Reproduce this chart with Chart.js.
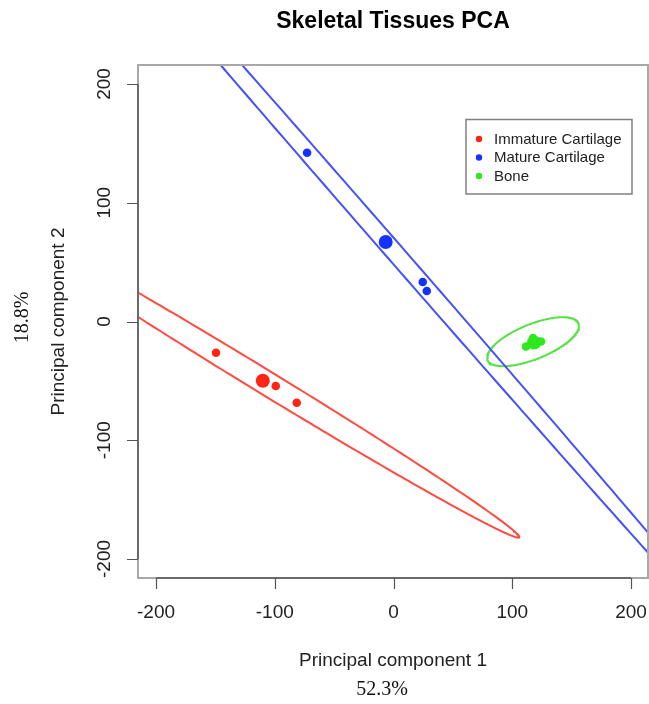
<!DOCTYPE html>
<html>
<head>
<meta charset="utf-8">
<title>Skeletal Tissues PCA</title>
<script src="https://cdn.jsdelivr.net/npm/chart.js@4.4.1/dist/chart.umd.min.js"></script>
<style>
  html, body { margin: 0; padding: 0; background: #fff; }
  #wrap { width: 649px; height: 704px; }
</style>
</head>
<body>
<div id="wrap"><canvas id="pcaChart" width="649" height="704"></canvas></div>
<script>
// Tissue groups
const groupNames = ['Immature Cartilage', 'Mature Cartilage', 'Bone'];
const pointColors = ['#ff2414', '#1432ff', '#2ee81e'];
const ellipseColors = ['#ff4a40', '#4650ff', '#5ae046'];

// PC1 / PC2 scores of the samples
const immatureX = [-149.5, -99.2, -81.5];
const immatureY = [-26.3, -54.3, -68.4];
const matureX = [-72.8, 24.6, 28.0];
const matureY = [142.1, 33.3, 25.7];
const boneX = [111.6, 117.5, 124.2, 120.4];
const boneY = [-21.1, -13.9, -16.8, -18.9];

// group centroids (drawn as larger dots)
const centroidX = [-110.1, -6.6, 118.3];
const centroidY = [-49.9, 66.9, -17.7];

// confidence ellipses: centre, semi-axes and rotation in degrees
const ellipseCentreX = [-110.1, -6.6, 117.5];
const ellipseCentreY = [-49.9, 66.9, -17.0];
const ellipseMajor = [253, 508, 41.3];
const ellipseMinor = [10, 7.4, 14.7];
const ellipseAngle = [-31.4, -48.9, 22];

const xTicks = [-200, -100, 0, 100, 200];
const yTicks = [-200, -100, 0, 100, 200];
const xLabel = 'Principal component 1';
const yLabel = 'Principal component 2';
const xVariance = '52.3%';
const yVariance = '18.8%';

const sans = "'Liberation Sans', Arial, Helvetica, sans-serif";
const serif = "'Liberation Serif', 'Times New Roman', serif";

const sampleX = [immatureX, matureX, boneX];
const sampleY = [immatureY, matureY, boneY];
const TICK_LEN = 11;

function ellipseOutline(i) {
    const pts = [];
    const t = ellipseAngle[i] * Math.PI / 180;
    for (let k = 0; k <= 360; k++) {
        const u = k * Math.PI / 180;
        const ex = ellipseMajor[i] * Math.cos(u);
        const ey = ellipseMinor[i] * Math.sin(u);
        pts.push({
            x: ellipseCentreX[i] + ex * Math.cos(t) - ey * Math.sin(t),
            y: ellipseCentreY[i] + ex * Math.sin(t) + ey * Math.cos(t)
        });
    }
    return pts;
}

const datasets = [];
groupNames.forEach((name, i) => {
    const pts = sampleX[i].map((x, j) => ({ x: x, y: sampleY[i][j] }));
    pts.push({ x: centroidX[i], y: centroidY[i] });
    datasets.push({
        label: name,
        data: pts,
        pointRadius: pts.map((p, j) => j === pts.length - 1 ? 7 : 4.3),
        pointBackgroundColor: pointColors[i],
        pointBorderWidth: 0,
        order: 0
    });
});
groupNames.forEach((name, i) => {
    datasets.push({
        label: name + ' ellipse',
        data: ellipseOutline(i),
        showLine: true,
        pointRadius: 0,
        borderColor: ellipseColors[i],
        borderWidth: 2,
        fill: false,
        tension: 0,
        order: 1
    });
});

// R-style frame, axis lines + ticks, variance notes and boxed legend
const extrasPlugin = {
    id: 'pcaExtras',
    afterDraw(chart) {
        const ctx = chart.ctx;
        const area = chart.chartArea;
        const xs = chart.scales.x, ys = chart.scales.y;
        ctx.save();

        ctx.strokeStyle = '#a8a8a8';
        ctx.lineWidth = 2;
        ctx.strokeRect(area.left, area.top, area.right - area.left, area.bottom - area.top);

        ctx.strokeStyle = '#555';
        ctx.lineWidth = 1.5;
        ctx.beginPath();
        ctx.moveTo(xs.getPixelForValue(xTicks[0]), area.bottom);
        ctx.lineTo(xs.getPixelForValue(xTicks[xTicks.length - 1]), area.bottom);
        ctx.moveTo(area.left, ys.getPixelForValue(yTicks[0]));
        ctx.lineTo(area.left, ys.getPixelForValue(yTicks[yTicks.length - 1]));
        ctx.stroke();

        ctx.lineWidth = 1.2;
        ctx.beginPath();
        xTicks.forEach(v => {
            const px = Math.round(xs.getPixelForValue(v)) + 0.5;
            ctx.moveTo(px, area.bottom);
            ctx.lineTo(px, area.bottom + TICK_LEN);
        });
        yTicks.forEach(v => {
            const py = Math.round(ys.getPixelForValue(v)) + 0.5;
            ctx.moveTo(area.left, py);
            ctx.lineTo(area.left - TICK_LEN, py);
        });
        ctx.stroke();

        ctx.fillStyle = '#111';
        ctx.font = '20px ' + serif;
        ctx.textAlign = 'center';
        ctx.textBaseline = 'middle';
        ctx.fillText(xVariance, (area.left + area.right) / 2 - 11, 690);
        ctx.save();
        ctx.translate(23, (area.top + area.bottom) / 2 - 4);
        ctx.rotate(-Math.PI / 2);
        ctx.fillText(yVariance, 0, 0);
        ctx.restore();

        // legend
        const bx = area.right - 182, by = area.top + 54.5, bw = 166, bh = 74.5;
        ctx.strokeStyle = '#808080';
        ctx.lineWidth = 1.5;
        ctx.strokeRect(bx, by, bw, bh);
        ctx.font = '15px ' + sans;
        ctx.textAlign = 'left';
        groupNames.forEach((name, i) => {
            const ry = by + 19.5 + i * 18.5;
            ctx.fillStyle = pointColors[i];
            ctx.beginPath();
            ctx.arc(bx + 13, ry, 3.2, 0, Math.PI * 2);
            ctx.fill();
            ctx.fillStyle = '#222';
            ctx.fillText(name, bx + 28, ry + 0.5);
        });
        ctx.restore();
    }
};

const tickFont = { family: sans, size: 19 };
const titleFont = { family: sans, size: 19 };

new Chart(document.getElementById('pcaChart').getContext('2d'), {
    type: 'scatter',
    data: { datasets: datasets },
    options: {
        responsive: false,
        animation: false,
        devicePixelRatio: 1,
        events: [],
        layout: { autoPadding: false, padding: { top: 0, right: 1, bottom: 0, left: 0 } },
        plugins: {
            legend: { display: false },
            tooltip: { enabled: false },
            title: {
                display: true,
                text: 'Skeletal Tissues PCA',
                fullSize: false,
                color: '#000',
                font: { family: sans, size: 23, weight: 'bold' },
                padding: { top: 8, bottom: 29.4 }
            }
        },
        scales: {
            x: {
                type: 'linear',
                min: -215.2,
                max: 214.3,
                afterBuildTicks: s => { s.ticks = xTicks.map(v => ({ value: v })); },
                afterFit: s => { s.height = 126; },
                border: { display: false },
                // tick marks are drawn by pcaExtras; tickLength only spaces the labels
                grid: { display: false, drawTicks: true, tickLength: 23.6 },
                ticks: { font: tickFont, color: '#222', padding: 0, maxRotation: 0, minRotation: 0, autoSkip: false },
                title: { display: true, text: xLabel, font: titleFont, color: '#222', padding: { top: 0, bottom: 31.6 } }
            },
            y: {
                type: 'linear',
                min: -216,
                max: 216,
                afterBuildTicks: s => { s.ticks = yTicks.map(v => ({ value: v })); },
                afterFit: s => { s.width = 138; },
                border: { display: false },
                grid: { display: false, drawTicks: true, tickLength: 14.5 },
                ticks: { font: tickFont, color: '#222', padding: 0, minRotation: 90, maxRotation: 90, crossAlign: 'center', autoSkip: false },
                title: { display: true, text: yLabel, font: titleFont, color: '#222', padding: { top: 47, bottom: 0 } }
            }
        }
    },
    plugins: [extrasPlugin]
});
</script>
</body>
</html>
